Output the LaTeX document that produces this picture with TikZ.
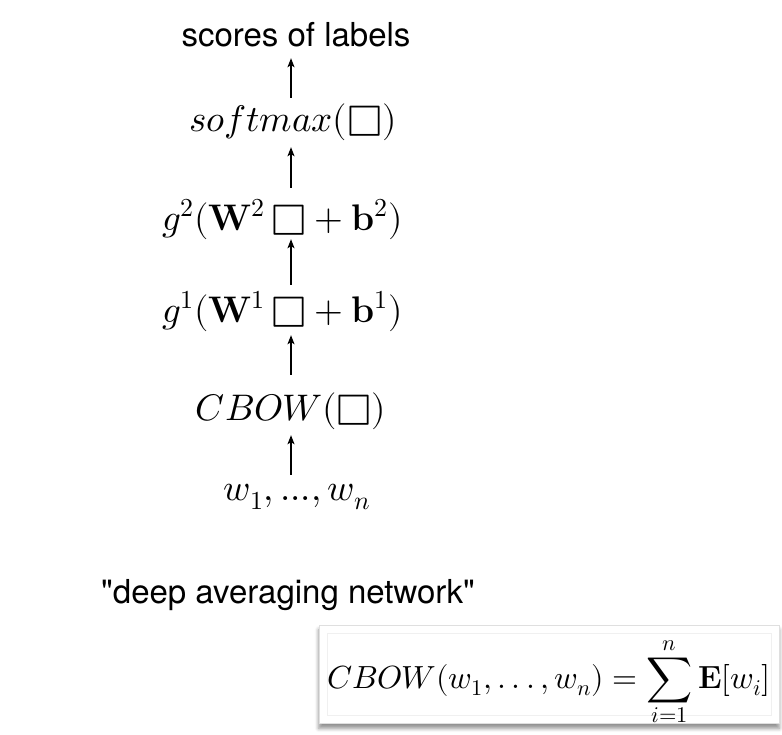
\documentclass[tikz,border=0pt]{standalone}
\usepackage{graphicx}
\usepackage{fontspec}
\usepackage{unicode-math}
\setmathfont{Latin Modern Math}
\setsansfont{TeX Gyre Heros}
\usetikzlibrary{arrows.meta, positioning, fit, backgrounds, shadows.blur}
\newcommand{\hole}{\raisebox{-0.04em}{\scalebox{1.22}{$\mdlgwhtsquare$}}}

\begin{document}
\begin{tikzpicture}[
    x=1pt, y=-1pt,
    layer/.style={
        anchor=base, inner sep=0pt,
        text height=20pt, text depth=6pt,
        font=\fontsize{37}{44}\selectfont
    },
    caption/.style={
        anchor=base, inner sep=0pt,
        text height=20pt, text depth=6pt,
        font=\sffamily\fontsize{33}{40}\selectfont
    },
    formula/.style={
        anchor=base, inner sep=0pt,
        text height=55pt, text depth=27pt,
        font=\fontsize{32}{40}\selectfont
    },
    shadowbox/.style={
        draw=gray!25, fill=white, inner sep=8pt,
        blur shadow={shadow xshift=0pt, shadow yshift=-5pt,
                     shadow blur radius=4pt, shadow opacity=45}
    },
    arr/.style={-{Stealth[length=9pt, width=7pt, inset=2pt]}, line width=1.4pt}
]
\useasboundingbox (0,0) rectangle (782,734);

\coordinate (axis) at (291,0);

% the network, bottom to top
\node[layer]   (words)   at (297,500) {$w_1, ..., w_n$};
\node[layer]   (cbow)    at (291,420) {$CBOW(\hole)$};
\node[layer]   (hidone)  at (282.5,322) {$g^1(\mathbf{W}^1\,\hole + \mathbf{b}^1)$};
\node[layer]   (hidtwo)  at (282.5,230) {$g^2(\mathbf{W}^2\,\hole + \mathbf{b}^2)$};
\node[layer]   (softmax) at (293,131) {$softmax(\hole)$};
\node[caption] (scores)  at (296,46)  {scores of labels};

\draw[arr, shorten <=5pt,  shorten >=9pt]  (words.north -| axis)   -- (cbow.south -| axis);
\draw[arr, shorten <=25pt, shorten >=7pt]  (cbow.north -| axis)    -- (hidone.south -| axis);
\draw[arr, shorten <=17pt, shorten >=3pt]  (hidone.north -| axis)  -- (hidtwo.south -| axis);
\draw[arr, shorten <=22pt, shorten >=10pt] (hidtwo.north -| axis)  -- (softmax.south -| axis);
\draw[arr, shorten <=13pt, shorten >=6pt]  (softmax.north -| axis) -- (scores.south -| axis);

\node[caption] (dan) at (288,603) {\textquotedbl deep averaging network\textquotedbl};

% definition of CBOW
\node[formula] (cbowdef) at (549,688)
    {$\displaystyle CBOW(w_1,.\,.\,.\,,w_n) = \sum_{i=1}^{n}\mathbf{E}[w_i]$};
\begin{scope}[on background layer]
    \node[shadowbox, fit=(cbowdef)] (frame) {};
    \node[draw=gray!12, inner sep=0pt, fit=(cbowdef)] (inner) {};
\end{scope}

\end{tikzpicture}
\end{document}
